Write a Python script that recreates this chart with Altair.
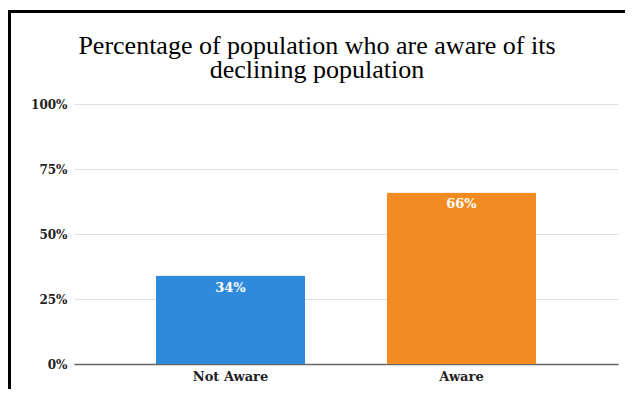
import altair as alt
import pandas as pd

categories = ["Not Aware", "Aware"]
values = [34, 66]
colors = ["#2F8ADB", "#F28C22"]
labels = ["34%", "66%"]
title_lines = ["Percentage of population who are aware of its", "declining population"]

df = pd.DataFrame({"category": categories, "value": values, "label": labels})

W, H = 544, 260
PADL, PADT, PADR, PADB = 66, 96, 7, 25

base = alt.Chart(df)

bars = base.mark_bar(cornerRadiusTopLeft=1, cornerRadiusTopRight=1).encode(
    x=alt.X("category:N", sort=categories,
            scale=alt.Scale(paddingInner=0.355, paddingOuter=0.355),
            axis=alt.Axis(title=None, labelAngle=0, ticks=False, labelPadding=6,
                          labelFont="DejaVu Serif", labelFontWeight="bold", labelFontSize=13,
                          labelColor="#222", domainColor="#666", domainWidth=1.5)),
    y=alt.Y("value:Q", scale=alt.Scale(domain=[0, 100]),
            axis=alt.Axis(title=None, values=[0, 25, 50, 75, 100],
                          labelExpr="datum.value + '%'", ticks=False, domain=False,
                          labelPadding=7, labelFont="DejaVu Serif", labelFontWeight="bold",
                          labelFontSize=12, labelColor="#222",
                          gridColor="#e0e0e0", gridWidth=1)),
    color=alt.Color("category:N", sort=categories,
                    scale=alt.Scale(domain=categories, range=colors), legend=None),
)

text = base.mark_text(baseline="top", dy=6, color="white", font="DejaVu Serif",
                      fontWeight="bold", fontSize=13).encode(
    x=alt.X("category:N", sort=categories),
    y=alt.Y("value:Q"),
    text="label:N",
)

one = pd.DataFrame({"k": [0]})
title1 = alt.Chart(one).mark_text(
    text=title_lines[0], font="Liberation Serif", fontSize=26,
    color="black", align="center", baseline="alphabetic",
).encode(x=alt.value(317 - 8 - PADL), y=alt.value(54 - 8 - PADT))
title2 = alt.Chart(one).mark_text(
    text=title_lines[1], font="Liberation Serif", fontSize=26,
    color="black", align="center", baseline="alphabetic",
).encode(x=alt.value(317 - 8 - PADL), y=alt.value(78 - 8 - PADT))

border_left = alt.Chart(one).mark_rule(color="black", strokeWidth=3).encode(
    x=alt.value(-PADL + 1.5), y=alt.value(-PADT + 2), y2=alt.value(H + PADB)
)
border_top = alt.Chart(one).mark_rule(color="black", strokeWidth=3).encode(
    x=alt.value(-PADL), x2=alt.value(W + PADR), y=alt.value(-PADT + 3.5)
)

chart = alt.layer(bars, text, title1, title2, border_left, border_top).properties(
    width=W, height=H,
    autosize=alt.AutoSizeParams(type="none"),
    padding={"left": PADL, "top": PADT, "right": PADR, "bottom": PADB},
).configure_view(stroke=None)

chart.save("out.html", embed_options={"renderer": "svg", "actions": False})
